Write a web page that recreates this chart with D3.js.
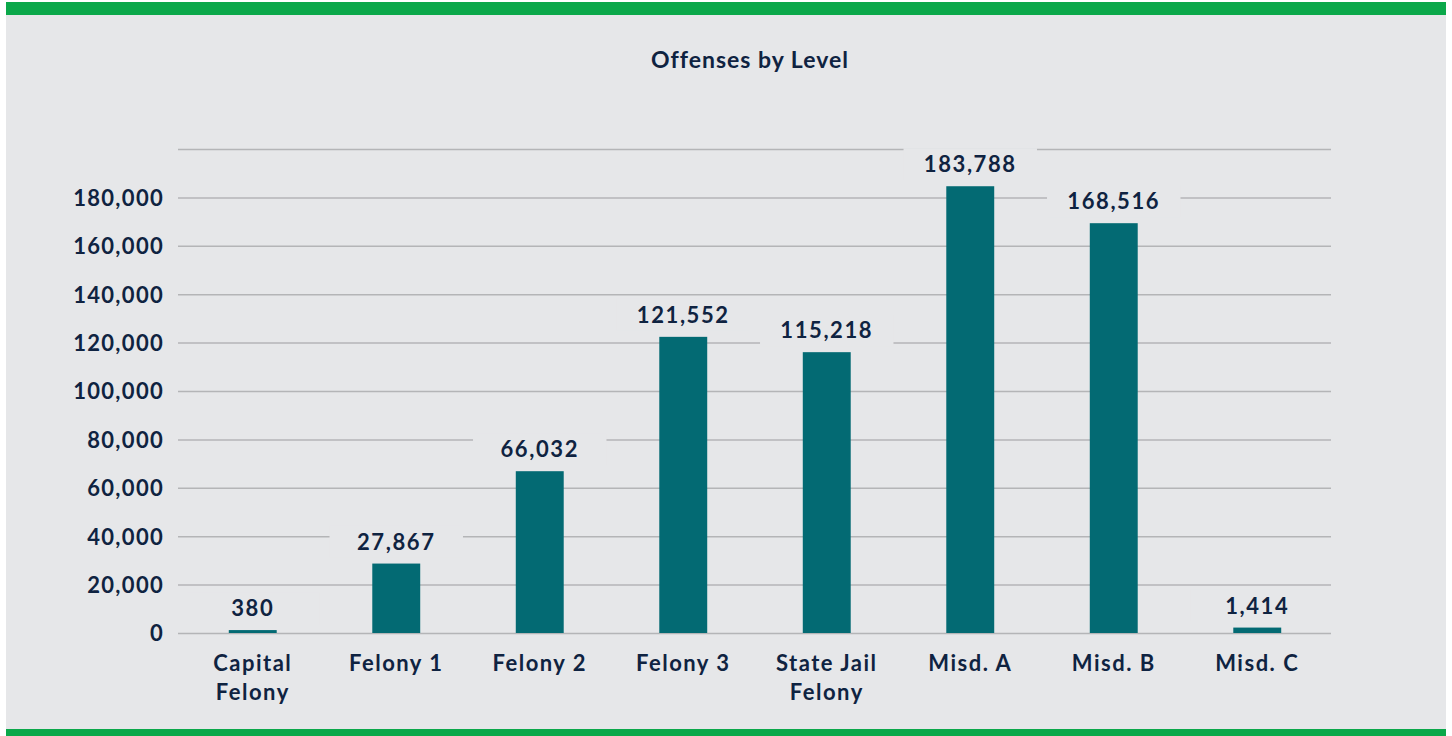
<!DOCTYPE html>
<html>
<head>
<meta charset="utf-8">
<script src="https://cdn.jsdelivr.net/npm/d3@7"></script>
<style>
  body { margin: 0; background: #ffffff; }
  svg { display: block; }
  text { font-family: Lato, "Noto Sans", sans-serif; font-weight: 700; fill: #0f2341; }
</style>
</head>
<body>
<div class="graph-container"></div>
<script>
// data
var levels = ['Capital Felony', 'Felony 1', 'Felony 2', 'Felony 3', 'State Jail Felony', 'Misd. A', 'Misd. B', 'Misd. C']
var levelLines = [['Capital', 'Felony'], ['Felony 1'], ['Felony 2'], ['Felony 3'], ['State Jail', 'Felony'], ['Misd. A'], ['Misd. B'], ['Misd. C']]
var offenses = [380, 27867, 66032, 121552, 115218, 183788, 168516, 1414]
var yTicks = [0, 20000, 40000, 60000, 80000, 100000, 120000, 140000, 160000, 180000, 200000]
var title = 'Offenses by Level'

var W = 1452, H = 736
var plot = {left: 178, right: 1331, top: 149, bottom: 633}

var svg = d3.select(".graph-container").append("svg")
    .attr("width", W)
    .attr("height", H)

// panel + green bands
svg.append("rect").attr("x", 6).attr("y", 2).attr("width", 1440).attr("height", H - 2).attr("fill", "#e6e7e9")
svg.append("rect").attr("x", 6).attr("y", 2).attr("width", 1440).attr("height", 13).attr("fill", "#0ba84a")
svg.append("rect").attr("x", 6).attr("y", 729).attr("width", 1440).attr("height", 7).attr("fill", "#0ba84a")

svg.append("text")
    .attr("x", 750).attr("y", 68)
    .attr("text-anchor", "middle")
    .style("font-size", "23px")
    .style("letter-spacing", "1px")
    .text(title)

var x = d3.scaleBand()
    .domain(levels)
    .range([181, 1329])
    .paddingInner(0.666)
    .paddingOuter(0.333)

var y = d3.scaleLinear()
    .domain([0, 200000])
    .range([plot.bottom, plot.top])

// y axis with gridlines
var yAxis = d3.axisLeft(y)
    .tickValues(yTicks)
    .tickSize(-(plot.right - plot.left))
    .tickPadding(14)
    .tickFormat(d => d === 200000 ? '' : d3.format(',')(d))

var gy = svg.append('g')
    .attr('class', 'axis y-axis')
    .attr("transform", "translate(" + plot.left + ",0)")
    .call(yAxis)
gy.select('.domain').remove()
gy.selectAll('.tick line').attr('stroke', '#b4b5b7').attr('stroke-width', 1.5)
gy.selectAll('.tick text')
    .style('font-size', '22px')
    .style('letter-spacing', '1.3px')
    .attr('fill', '#0f2341')
    .attr('dy', '0.36em')

// bars
var step = x.step()
svg.selectAll(".bar")
    .data(offenses)
    .enter().append("rect")
    .attr("class", "bar")
    .attr("x", (d, i) => x(levels[i]))
    .attr("width", x.bandwidth())
    .attr("y", d => y(d) - 2)
    .attr("height", d => plot.bottom - y(d) + 2)
    .attr("fill", "#036a73")

// value labels with background boxes
var lab = svg.selectAll(".lab")
    .data(offenses)
    .enter().append("g")
    .attr("class", "lab")
    .attr("transform", (d, i) => "translate(" + (x(levels[i]) + x.bandwidth() / 2) + "," + (y(d) - 16) + ")")

lab.append("rect")
    .attr("x", -step * 0.465)
    .attr("y", -24)
    .attr("width", step * 0.93)
    .attr("height", 32)
    .attr("fill", "#e6e7e9")

lab.append("text")
    .attr("text-anchor", "middle")
    .style("font-size", "22px")
    .style("letter-spacing", "1.6px")
    .text(d => d3.format(',')(d))

// category labels
var cat = svg.selectAll(".cat")
    .data(levelLines)
    .enter().append("text")
    .attr("class", "cat")
    .attr("text-anchor", "middle")
    .attr("x", (d, i) => x(levels[i]) + x.bandwidth() / 2)
    .attr("y", 671)
    .style("font-size", "22px")
    .style("letter-spacing", "1.5px")

cat.selectAll("tspan")
    .data(d => d)
    .enter().append("tspan")
    .attr("x", function() { return d3.select(this.parentNode).attr("x") })
    .attr("dy", (d, i) => i === 0 ? 0 : 28.5)
    .text(d => d)
</script>
</body>
</html>
